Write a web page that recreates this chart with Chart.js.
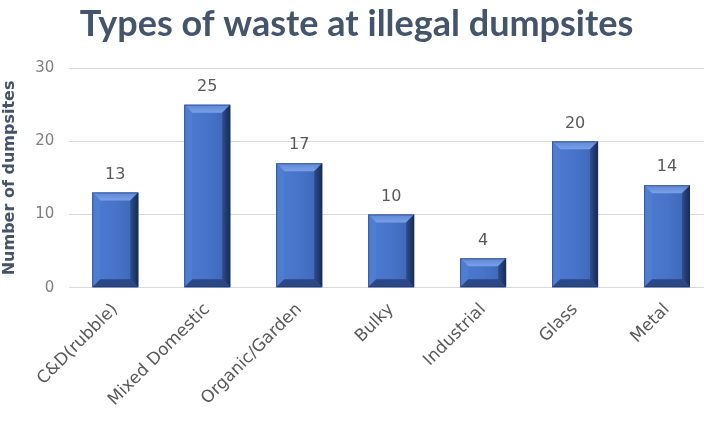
<!DOCTYPE html>
<html>
<head>
<meta charset="utf-8">
<script src="https://cdn.jsdelivr.net/npm/chart.js@4.4.0/dist/chart.umd.min.js"></script>
<style>
  html, body { margin: 0; padding: 0; background: #fff; overflow: hidden; }
  #wrap { width: 713px; height: 421px; }
</style>
</head>
<body>
<div id="wrap"><canvas id="wasteChart"></canvas></div>
<script>
// --- data ---
const categories = ['C&D(rubble)', 'Mixed Domestic', 'Organic/Garden', 'Bulky', 'Industrial', 'Glass', 'Metal'];
const dumpsites = [13, 25, 17, 10, 4, 20, 14];
const yTicks = [0, 10, 20, 30];

const FONT = "'DejaVu Sans', 'Noto Sans', sans-serif";
const TITLE_FONT = "'Lato', 'Noto Sans', sans-serif";
const SLATE = '#44546A';

// bevelled "3D" look for the bars + value labels on top
const bevelBars = {
    id: 'bevelBars',
    afterDatasetsDraw(chart) {
        const ctx = chart.ctx;
        const meta = chart.getDatasetMeta(0);
        meta.data.forEach((bar, i) => {
            const p = bar.getProps(['x', 'y', 'base', 'width'], true);
            const l = p.x - p.width / 2, r = p.x + p.width / 2;
            const t = p.y, b = p.base;
            const bv = Math.min(8, (b - t) / 3);
            ctx.save();
            // face
            const g = ctx.createLinearGradient(l, 0, r, 0);
            g.addColorStop(0, '#4d7bd2');
            g.addColorStop(0.5, '#4774c9');
            g.addColorStop(1, '#3c65b4');
            ctx.fillStyle = g;
            ctx.fillRect(l, t, r - l, b - t);
            // top
            const gt = ctx.createLinearGradient(0, t, 0, t + bv);
            gt.addColorStop(0, '#5d86d6');
            gt.addColorStop(1, '#7aa0e6');
            ctx.fillStyle = gt;
            ctx.beginPath();
            ctx.moveTo(l, t); ctx.lineTo(r, t); ctx.lineTo(r - bv, t + bv); ctx.lineTo(l + bv, t + bv);
            ctx.closePath(); ctx.fill();
            // left
            ctx.fillStyle = '#4f7dd0';
            ctx.beginPath();
            ctx.moveTo(l, t); ctx.lineTo(l + bv, t + bv); ctx.lineTo(l + bv, b - bv); ctx.lineTo(l, b);
            ctx.closePath(); ctx.fill();
            // right
            const gr = ctx.createLinearGradient(r - bv, 0, r, 0);
            gr.addColorStop(0, '#2e4d8e');
            gr.addColorStop(1, '#172a52');
            ctx.fillStyle = gr;
            ctx.beginPath();
            ctx.moveTo(r, t); ctx.lineTo(r, b); ctx.lineTo(r - bv, b - bv); ctx.lineTo(r - bv, t + bv);
            ctx.closePath(); ctx.fill();
            // bottom
            ctx.fillStyle = '#2b4786';
            ctx.beginPath();
            ctx.moveTo(l, b); ctx.lineTo(r, b); ctx.lineTo(r - bv, b - bv); ctx.lineTo(l + bv, b - bv);
            ctx.closePath(); ctx.fill();
            // outline
            ctx.strokeStyle = 'rgba(30,48,92,0.45)';
            ctx.lineWidth = 1;
            ctx.strokeRect(l + 0.5, t + 0.5, r - l - 1, b - t - 1);
            // value label
            ctx.fillStyle = '#595959';
            ctx.font = '16px ' + FONT;
            ctx.textAlign = 'center';
            ctx.textBaseline = 'bottom';
            ctx.fillText(dumpsites[i], p.x, t - 10);
            ctx.restore();
        });
    }
};

const ctx = document.getElementById('wasteChart').getContext('2d');
const wasteChart = new Chart(ctx, {
    type: 'bar',
    data: {
        labels: categories,
        datasets: [{
            label: 'Number of dumpsites',
            data: dumpsites,
            backgroundColor: '#4472c4',
            barPercentage: 0.5,
            categoryPercentage: 1
        }]
    },
    options: {
        responsive: true,
        maintainAspectRatio: false,
        animation: false,
        layout: { padding: { left: 0, right: 0, top: 0, bottom: 7 } },
        scales: {
            y: {
                min: 0,
                max: 30,
                afterBuildTicks: axis => { axis.ticks = yTicks.map(v => ({ value: v })); },
                border: { display: false },
                grid: { color: '#d9d9d9', drawTicks: false },
                ticks: { color: '#7f7f7f', font: { family: FONT, size: 15 }, padding: 15 },
                title: {
                    display: true,
                    text: 'Number of dumpsites',
                    color: SLATE,
                    font: { family: FONT, size: 16, weight: 'bold' },
                    padding: { top: 0, bottom: 1 }
                }
            },
            x: {
                border: { display: false },
                grid: { display: false },
                ticks: {
                    color: '#595959',
                    font: { family: FONT, size: 17 },
                    minRotation: 45,
                    maxRotation: 45,
                    padding: 4
                }
            }
        },
        plugins: {
            legend: { display: false },
            tooltip: { enabled: false },
            title: {
                display: true,
                text: 'Types of waste at illegal dumpsites',
                color: SLATE,
                font: { family: TITLE_FONT, size: 36, weight: 'bold' },
                padding: { top: 3, bottom: 22 }
            }
        }
    },
    plugins: [bevelBars]
});
</script>
</body>
</html>
